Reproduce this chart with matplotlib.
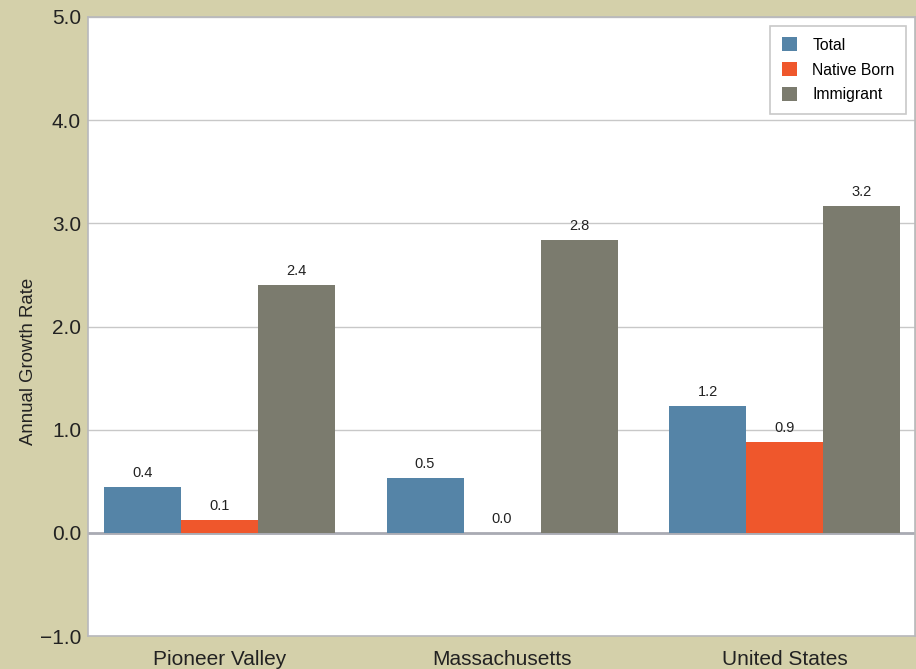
import matplotlib
matplotlib.use('Agg')
import matplotlib.pyplot as plt
import numpy as np

plt.rcParams['font.family'] = ['Liberation Sans', 'DejaVu Sans']

# data
regions = ['Pioneer Valley', 'Massachusetts', 'United States']
series = ['Total', 'Native Born', 'Immigrant']
total = [0.44, 0.53, 1.23]
native_born = [0.12, 0.0, 0.88]
immigrant = [2.40, 2.84, 3.17]
colors = ['#5584a7', '#ef572c', '#7b7b6e']

bg = '#d4d0aa'
fig = plt.figure(figsize=(9.16, 6.69), dpi=100, facecolor=bg)
ax = fig.add_axes([0.0961, 0.0493, 0.9029, 0.9253])
ax.set_facecolor('white')

x = np.arange(len(regions))
w = 0.2726
for i, (vals, name) in enumerate(zip([total, native_born, immigrant], series)):
    pos = x + (i - 1) * w
    ax.bar(pos, vals, w, color=colors[i], label=name, zorder=3)
    for xi, v in zip(pos, vals):
        ax.text(xi, v + 0.07, '%.1f' % v, ha='center', va='bottom',
                fontsize=10.5, color='#222222', zorder=4)

ax.set_xlim(-0.4655, 2.462)
ax.set_ylim(-1.0, 5.0)
ax.set_yticks(np.arange(-1.0, 5.01, 1.0))
ax.set_yticklabels(['\u22121.0'] + ['%.1f' % t for t in np.arange(0.0, 5.01, 1.0)])
ax.set_xticks(x)
ax.set_xticklabels(regions)
ax.tick_params(axis='y', length=0, labelsize=15, colors='#222222', pad=5)
ax.tick_params(axis='x', length=0, labelsize=15, colors='#222222', pad=10)
ax.yaxis.grid(True, color='#c8c8c8', linewidth=1.0, zorder=0)
ax.axhline(0, color='#a9abb3', linewidth=2, zorder=2)
for s in ax.spines.values():
    s.set_color('#b8b8bc')
    s.set_linewidth(1.2)

ax.set_ylabel('Annual Growth Rate', fontsize=13.4, color='#222222')
ax.yaxis.set_label_coords(-0.062, 0.443)

leg = ax.legend(loc='upper right', frameon=True, fancybox=False, fontsize=11.3,
                handlelength=1.0, handleheight=1.0, borderpad=0.75,
                labelspacing=0.6, handletextpad=0.95, borderaxespad=0.55)
leg.get_frame().set_edgecolor('#bbbbbb')
leg.get_frame().set_linewidth(1.2)

fig.savefig('out.png', dpi=100, facecolor=bg)
